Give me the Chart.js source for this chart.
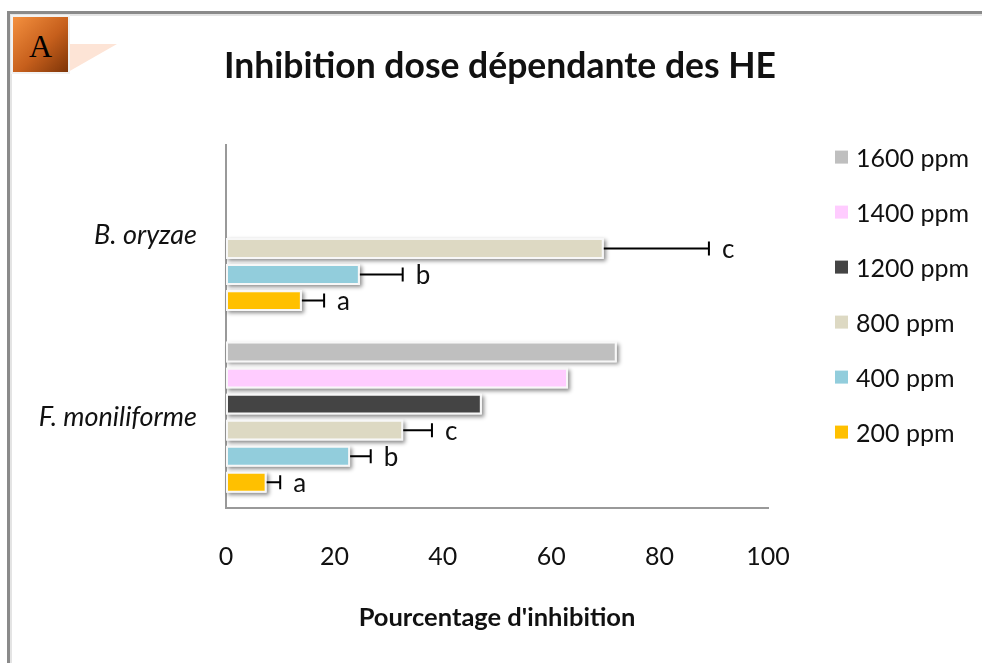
<!DOCTYPE html>
<html>
<head>
<meta charset="utf-8">
<script src="https://cdn.jsdelivr.net/npm/chart.js@4/dist/chart.umd.min.js"></script>
<style>
  html, body { margin: 0; padding: 0; background: #fff; }
  #wrap { position: relative; width: 982px; height: 663px; overflow: hidden; }
  #chart { position: absolute; left: 0; top: 0; }
  #frame { position: absolute; left: 7px; top: 11px; width: 1000px; height: 700px;
           border-top: 3px solid #8a8a8a; border-left: 3px solid #8a8a8a; }
  #frame2 { position: absolute; left: 10px; top: 14px; width: 1000px; height: 700px;
            border-top: 2px solid #e4e4e4; border-left: 2px solid #e4e4e4; }
  #badge { position: absolute; left: 13px; top: 17px; width: 55px; height: 55px;
           background: linear-gradient(135deg, #f4903f 0%, #c65f1c 55%, #7e3508 100%);
           outline: 2px solid #f2f2f2;
           font-family: "Liberation Serif", "DejaVu Serif", serif; font-size: 32px;
           color: #000; text-align: center; line-height: 58px; }
  #tri { position: absolute; left: 68px; top: 44px; width: 0; height: 0;
         border-top: 28px solid #fde4d6; border-right: 49px solid transparent; }
</style>
</head>
<body>
<div id="wrap">
  <canvas id="chart" width="982" height="663"></canvas>
  <div id="frame"></div>
  <div id="frame2"></div>
  <div id="tri"></div>
  <div id="badge">A</div>
</div>
<script>
const categories = ["B. oryzae", "F. moniliforme"];
const seriesNames = ["1600 ppm", "1400 ppm", "1200 ppm", "800 ppm", "400 ppm", "200 ppm"];
const seriesColors = ["#bfbfbf", "#ffccff", "#444444", "#ddd9c3", "#92cddc", "#ffc000"];

const ppm1600 = [null, 72.1];
const ppm1400 = [null, 63.1];
const ppm1200 = [null, 47.2];
const ppm800 = [69.7, 32.7];
const ppm400 = [24.7, 22.9];
const ppm200 = [14.0, 7.5];

const err1600 = [null, null];
const err1400 = [null, null];
const err1200 = [null, null];
const err800 = [19.4, 5.3];
const err400 = [7.9, 3.8];
const err200 = [4.1, 2.5];

const sig800 = ["c", "c"];
const sig400 = ["b", "b"];
const sig200 = ["a", "a"];

const xTicks = [0, 20, 40, 60, 80, 100];

const values = [ppm1600, ppm1400, ppm1200, ppm800, ppm400, ppm200];
const errors = [err1600, err1400, err1200, err800, err400, err200];
const letters = [null, null, null, sig800, sig400, sig200];

const FONT = "Lato, 'Open Sans', sans-serif";
const TXT = "#111";

// shadow behind each bar, like the Excel soft shadow
const barShadow = {
  id: "barShadow",
  beforeDatasetsDraw(chart) {
    const ctx = chart.ctx;
    ctx.save();
    ctx.shadowColor = "rgba(0,0,0,0.45)";
    ctx.shadowBlur = 4;
    ctx.shadowOffsetX = 2;
    ctx.shadowOffsetY = 2;
    ctx.fillStyle = "#fff";
    chart.data.datasets.forEach((ds, i) => {
      chart.getDatasetMeta(i).data.forEach((bar, j) => {
        if (ds.data[j] == null) return;
        const p = bar.getProps(["x", "y", "base", "height"], true);
        ctx.fillRect(Math.min(p.base, p.x), p.y - p.height / 2, Math.abs(p.x - p.base), p.height);
      });
    });
    ctx.restore();
  }
};

// error bars and significance letters
const errorBars = {
  id: "errorBars",
  afterDatasetsDraw(chart) {
    const ctx = chart.ctx;
    const xs = chart.scales.x;
    ctx.save();
    ctx.strokeStyle = "#000";
    ctx.lineWidth = 2;
    ctx.fillStyle = TXT;
    ctx.font = "26px " + FONT;
    ctx.textBaseline = "middle";
    chart.data.datasets.forEach((ds, i) => {
      const meta = chart.getDatasetMeta(i);
      meta.data.forEach((bar, j) => {
        const e = errors[i][j];
        if (ds.data[j] == null || e == null) return;
        const y = bar.getProps(["y"], true).y;
        const x0 = xs.getPixelForValue(ds.data[j]);
        const x1 = xs.getPixelForValue(ds.data[j] + e);
        ctx.beginPath();
        ctx.moveTo(x0, y);
        ctx.lineTo(x1, y);
        ctx.moveTo(x1, y - 7);
        ctx.lineTo(x1, y + 7);
        ctx.stroke();
        if (letters[i] && letters[i][j]) ctx.fillText(letters[i][j], x1 + 13, y + 1);
      });
    });
    ctx.restore();
  }
};

// legend on the right, stacked as in the original
const sideLegend = {
  id: "sideLegend",
  afterDraw(chart) {
    const ctx = chart.ctx;
    const area = chart.chartArea;
    ctx.save();
    ctx.font = "25px " + FONT;
    ctx.textBaseline = "middle";
    chart.data.datasets.forEach((ds, i) => {
      const y = area.top + 13 + i * 55;
      const x = area.right + 67;
      ctx.fillStyle = ds.backgroundColor;
      ctx.fillRect(x, y - 7, 13, 13);
      ctx.fillStyle = TXT;
      ctx.fillText(ds.label, x + 21, y + 1);
    });
    ctx.restore();
  }
};

new Chart(document.getElementById("chart"), {
  type: "bar",
  data: {
    labels: categories,
    datasets: seriesNames.map((name, i) => ({
      label: name,
      data: values[i],
      backgroundColor: seriesColors[i],
      borderColor: "#f7f7f7",
      borderWidth: 2,
      borderSkipped: false,
      categoryPercentage: 0.86,
      barPercentage: 0.8
    }))
  },
  options: {
    indexAxis: "y",
    responsive: false,
    animation: false,
    layout: { padding: { left: 18, right: 0, top: 0, bottom: 0 } },
    plugins: {
      legend: { display: false },
      tooltip: { enabled: false },
      title: {
        display: true,
        text: "Inhibition dose dépendante des HE",
        color: TXT,
        font: { family: FONT, size: 35.5, weight: "bold" },
        padding: { top: 45, bottom: 57 }
      }
    },
    scales: {
      x: {
        min: 0,
        max: 100,
        afterBuildTicks: (s) => { s.ticks = xTicks.map((v) => ({ value: v })); },
        afterFit: (s) => { s.height = 155; },
        grid: { display: false, drawTicks: false },
        border: { display: true, color: "#999", width: 2 },
        ticks: { color: TXT, padding: 34, font: { family: FONT, size: 25 } },
        title: {
          display: true,
          text: "Pourcentage d'inhibition",
          color: TXT,
          font: { family: FONT, size: 25.5, weight: "bold" },
          padding: { bottom: 30 }
        }
      },
      y: {
        afterFit: (s) => { s.width = 208; },
        grid: { display: false, drawTicks: false },
        border: { display: true, color: "#999", width: 2 },
        ticks: { color: TXT, padding: 29, font: { family: FONT, size: 27, style: "italic" } }
      },
      yRight: {
        axis: "y",
        type: "category",
        position: "right",
        afterFit: (s) => { s.width = 214; },
        grid: { display: false, drawTicks: false },
        border: { display: false },
        ticks: { display: false }
      }
    }
  },
  plugins: [barShadow, errorBars, sideLegend]
});
</script>
</body>
</html>
